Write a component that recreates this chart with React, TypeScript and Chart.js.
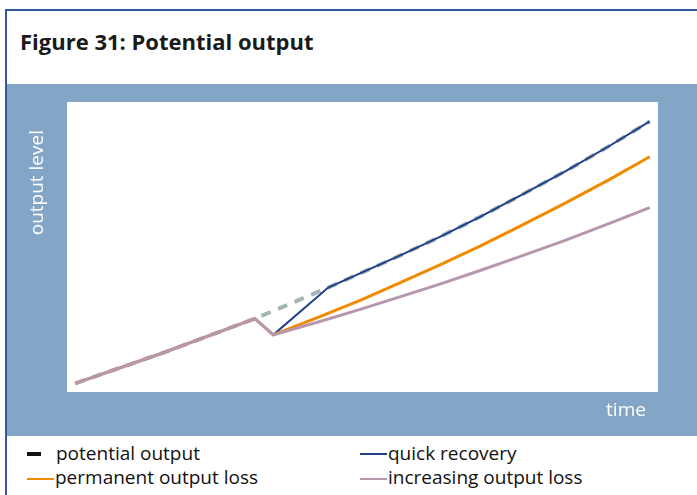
import React, { useEffect, useRef } from "react";
import { Chart, registerables } from "chart.js";

Chart.register(...registerables);

// time positions (0..100 along the horizontal axis) and output levels (0..100)
const potentialTime = [1.4, 15.7, 31.8, 44.2, 56.3, 63.1, 69.9, 76.6, 84.3, 91.9, 98.6];
const potentialLevel = [3.0, 13.1, 25.3, 36.0, 47.0, 53.5, 60.4, 67.6, 76.1, 85.0, 93.3];

const quickTime = [1.4, 15.7, 31.8, 34.9, 44.2, 56.3, 63.1, 69.9, 76.6, 84.3, 91.9, 98.6];
const quickLevel = [3.0, 13.1, 25.3, 19.7, 36.0, 47.0, 53.5, 60.4, 67.6, 76.1, 85.0, 93.3];

const permanentTime = [1.4, 15.7, 31.8, 34.9, 42.8, 49.6, 56.3, 63.1, 69.9, 76.6, 84.3, 91.9, 98.6];
const permanentLevel = [3.0, 13.1, 25.3, 19.7, 26.0, 31.6, 37.6, 43.8, 50.3, 57.1, 65.1, 73.4, 81.1];

const increasingTime = [1.4, 15.7, 31.8, 34.9, 42.8, 49.6, 56.3, 63.1, 69.9, 76.6, 84.3, 91.9, 98.6];
const increasingLevel = [3.0, 13.1, 25.3, 19.7, 24.3, 28.5, 32.8, 37.2, 41.9, 46.7, 52.3, 58.2, 63.6];

const TITLE = "Figure 31: Potential output";
const Y_LABEL = "output level";
const X_LABEL = "time";
const LEGEND = [
  { label: "potential output", color: "#111111", kind: "dash" },
  { label: "quick recovery", color: "#1F3F8C", kind: "line" },
  { label: "permanent output loss", color: "#F28A00", kind: "line" },
  { label: "increasing output loss", color: "#B797AE", kind: "line" },
];

const FONT = "'Open Sans', Lato, sans-serif";

const zip = (t: number[], v: number[]) => t.map((x, i) => ({ x, y: v[i] }));

const decor = {
  id: "decor",
  beforeDraw(chart: any) {
    const { ctx, chartArea } = chart;
    ctx.save();
    ctx.fillStyle = "#ffffff";
    ctx.fillRect(chartArea.left, chartArea.top, chartArea.right - chartArea.left, chartArea.bottom - chartArea.top);
    ctx.restore();
  },
  afterDraw(chart: any) {
    const { ctx, chartArea } = chart;
    ctx.save();
    ctx.fillStyle = "#ffffff";
    ctx.font = `19px ${FONT}`;
    ctx.translate(31, chartArea.top + 28);
    ctx.rotate(-Math.PI / 2);
    ctx.textAlign = "right";
    ctx.textBaseline = "middle";
    ctx.fillText(Y_LABEL, 0, 0);
    ctx.restore();
    ctx.save();
    ctx.fillStyle = "#ffffff";
    ctx.font = `19px ${FONT}`;
    ctx.textAlign = "center";
    ctx.textBaseline = "middle";
    ctx.fillText(X_LABEL, chartArea.right - 32, chartArea.bottom + 19);
    ctx.restore();
  },
};

export default function App() {
  const ref = useRef<HTMLCanvasElement>(null);
  useEffect(() => {
    if (!ref.current) return;
    const chart = new Chart(ref.current, {
      type: "line",
      data: {
        datasets: [
          {
            label: "increasing output loss",
            data: zip(increasingTime, increasingLevel),
            borderColor: "#B797AE",
            borderWidth: 3,
            pointRadius: 0,
            tension: 0,
          },
          {
            label: "permanent output loss",
            data: zip(permanentTime, permanentLevel),
            borderColor: "#F28A00",
            borderWidth: 3,
            pointRadius: 0,
            tension: 0,
          },
          {
            label: "quick recovery",
            data: zip(quickTime, quickLevel),
            borderColor: "#1F3F8C",
            borderWidth: 2,
            pointRadius: 0,
            tension: 0,
          },
          {
            label: "potential output",
            data: zip(potentialTime, potentialLevel),
            borderColor: "#A3B5B0",
            borderWidth: 4,
            borderDash: [10, 8],
            pointRadius: 0,
            tension: 0,
          },
        ],
      },
      options: {
        animation: false,
        responsive: true,
        maintainAspectRatio: false,
        layout: { padding: { left: 60, top: 18, right: 39, bottom: 44 } },
        scales: {
          x: { type: "linear", min: 0, max: 100, display: false },
          y: { type: "linear", min: 0, max: 100, display: false },
        },
        plugins: { legend: { display: false }, tooltip: { enabled: false } },
      },
      plugins: [decor],
    });
    return () => chart.destroy();
  }, []);

  const legendPos = [
    { top: 441, markerTop: 452, markerLeft: 27, textLeft: 56 },
    { top: 441, markerTop: 452, markerLeft: 360, textLeft: 388 },
    { top: 465, markerTop: 477, markerLeft: 27, textLeft: 55 },
    { top: 465, markerTop: 477, markerLeft: 360, textLeft: 388 },
  ];

  return (
    <div style={{ position: "absolute", left: 0, top: 0, width: 697, height: 495, overflow: "hidden", background: "#fff" }}>
      <div
        style={{
          position: "absolute",
          left: 5,
          top: 9,
          width: 692,
          height: 500,
          borderTop: "2px solid #2F57A6",
          borderLeft: "2px solid #2F57A6",
          boxSizing: "border-box",
        }}
      />
      <div
        style={{
          position: "absolute",
          left: 20,
          top: 26,
          font: `bold 22px ${FONT}`,
          lineHeight: "30px",
          color: "#1a1a1a",
          whiteSpace: "nowrap",
        }}
      >
        {TITLE}
      </div>
      <div style={{ position: "absolute", left: 7, top: 84, width: 690, height: 352, background: "#84A6C6" }}>
        <canvas ref={ref} />
      </div>
      {LEGEND.map((item, i) => {
        const p = legendPos[i];
        return (
          <React.Fragment key={item.label}>
            <div
              style={{
                position: "absolute",
                left: p.markerLeft,
                top: item.kind === "dash" ? p.markerTop : p.markerTop + 1,
                width: item.kind === "dash" ? 14 : 27,
                height: item.kind === "dash" ? 4 : 2,
                background: item.color,
              }}
            />
            <div
              style={{
                position: "absolute",
                left: p.textLeft,
                top: p.top,
                font: `19px ${FONT}`,
                lineHeight: "24px",
                color: "#111",
                whiteSpace: "nowrap",
              }}
            >
              {item.label}
            </div>
          </React.Fragment>
        );
      })}
    </div>
  );
}
